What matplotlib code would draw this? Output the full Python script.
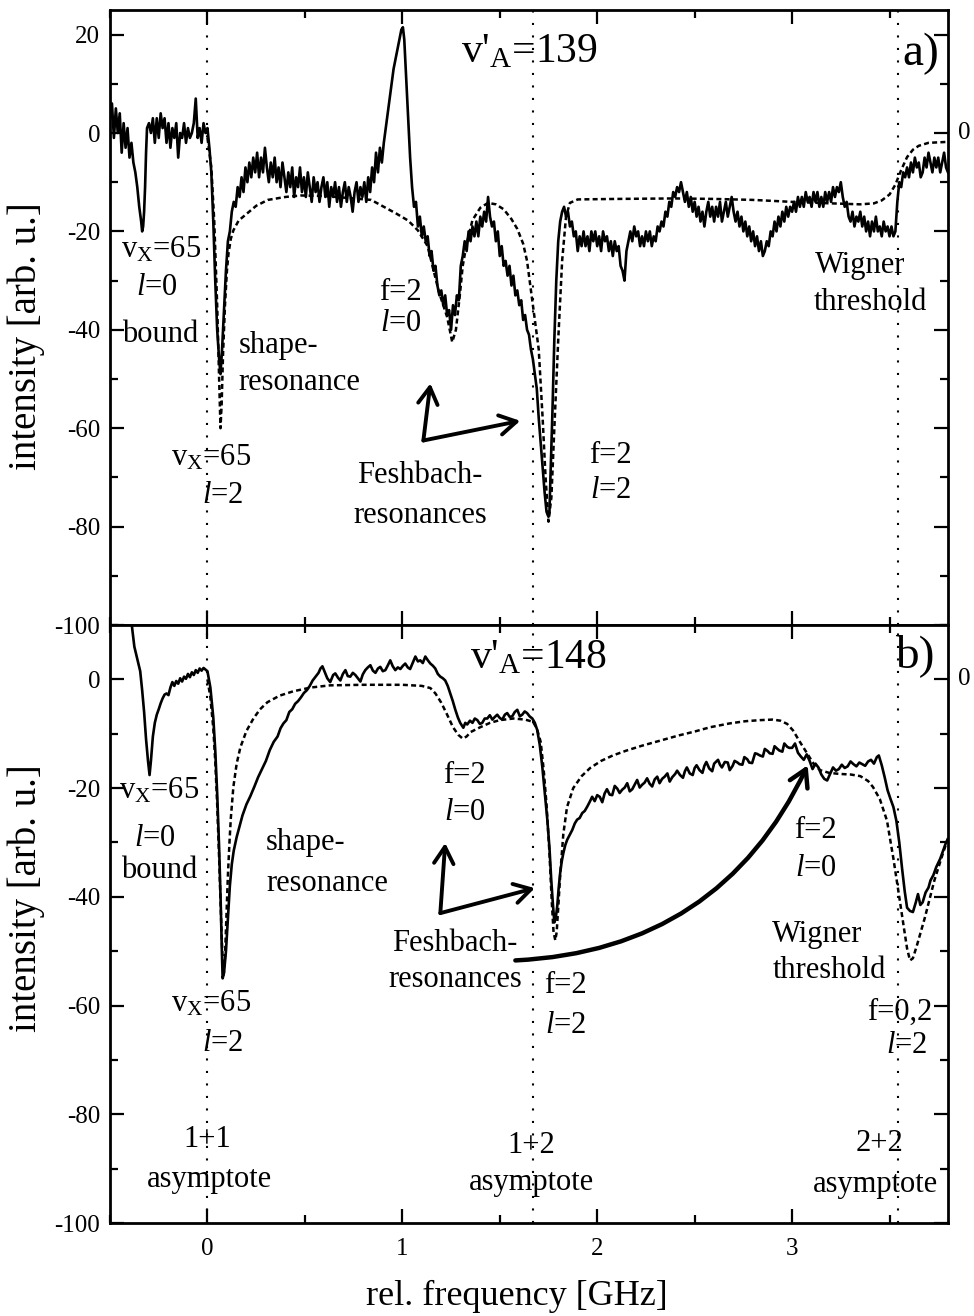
import numpy as np
import matplotlib
matplotlib.use('Agg')
import matplotlib.pyplot as plt
from matplotlib.ticker import MultipleLocator

# Fonte tipo Times para imitar a figura original
plt.rcParams['font.family'] = 'Liberation Serif'
plt.rcParams['mathtext.fontset'] = 'custom'
plt.rcParams['mathtext.rm'] = 'Liberation Serif'
plt.rcParams['mathtext.it'] = 'Liberation Serif:italic'
plt.rcParams['axes.unicode_minus'] = False

# ---------------- dados ----------------
# painel a) v'A = 139 : espectro medido (freq. GHz, intensidade)
exp_a = [
    (-0.50, 3), (-0.49, 6), (-0.48, -1), (-0.47, 5), (-0.46, 0), (-0.45, 4), (-0.44, -4), (-0.43, 2),
    (-0.42, -3), (-0.41, 1), (-0.40, -5), (-0.39, -2), (-0.38, -6), (-0.37, -8), (-0.36, -11), (-0.35, -15),
    (-0.34, -18), (-0.335, -20), (-0.33, -19), (-0.325, -16), (-0.32, -11), (-0.315, -4), (-0.31, 1),
    (-0.30, 2), (-0.29, 0), (-0.28, 3), (-0.27, -2), (-0.26, 3), (-0.25, -1), (-0.24, 4), (-0.23, 1),
    (-0.22, 3), (-0.21, -2), (-0.20, 2), (-0.19, -3), (-0.18, 1), (-0.17, -1), (-0.16, 2), (-0.15, -5),
    (-0.14, 0), (-0.13, -1), (-0.12, 2), (-0.11, -2), (-0.10, 1), (-0.09, -1), (-0.08, 0), (-0.07, 2),
    (-0.06, 7), (-0.05, -1), (-0.04, 1), (-0.03, -2), (-0.02, 2), (-0.01, 0), (0.00, 1),
    (0.01, -3), (0.02, -8), (0.03, -18), (0.04, -30), (0.05, -40), (0.06, -46), (0.067, -49),
    (0.075, -44), (0.085, -36), (0.095, -28), (0.105, -22), (0.115, -20), (0.125, -16), (0.135, -14),
    (0.145, -15), (0.155, -11), (0.165, -13), (0.175, -9), (0.185, -12), (0.195, -7), (0.205, -10),
    (0.215, -6), (0.225, -9), (0.235, -5), (0.245, -8), (0.255, -4), (0.265, -9), (0.275, -5),
    (0.285, -8), (0.295, -3), (0.305, -7), (0.315, -10), (0.325, -6), (0.335, -9), (0.345, -5),
    (0.355, -10), (0.365, -7), (0.375, -11), (0.385, -6), (0.395, -9), (0.405, -12), (0.415, -8),
    (0.425, -11), (0.435, -7), (0.445, -13), (0.455, -9), (0.465, -11), (0.475, -7), (0.485, -12),
    (0.495, -9), (0.505, -13), (0.515, -8), (0.525, -11), (0.535, -14), (0.545, -9), (0.555, -12),
    (0.565, -10), (0.575, -14), (0.585, -11), (0.595, -9), (0.605, -13), (0.615, -10), (0.625, -15),
    (0.635, -11), (0.645, -13), (0.655, -10), (0.665, -14), (0.675, -11), (0.685, -15), (0.695, -12),
    (0.705, -10), (0.715, -14), (0.725, -11), (0.735, -13), (0.745, -16), (0.755, -12), (0.765, -10),
    (0.775, -14), (0.785, -11), (0.795, -13), (0.805, -10), (0.815, -14), (0.825, -9), (0.835, -12),
    (0.845, -7), (0.855, -10), (0.865, -4), (0.875, -8), (0.885, -3), (0.895, -6), (0.905, -2),
    (0.915, 1), (0.925, 4), (0.935, 7), (0.945, 10), (0.955, 13), (0.965, 15), (0.975, 17),
    (0.985, 19), (0.995, 21), (1.003, 21.5), (1.01, 19), (1.02, 11), (1.03, 3), (1.04, -5),
    (1.05, -11), (1.06, -15), (1.07, -14), (1.08, -19), (1.09, -17), (1.10, -21), (1.11, -19),
    (1.12, -22), (1.13, -21), (1.14, -25), (1.15, -24), (1.16, -28), (1.17, -27), (1.18, -31),
    (1.19, -33), (1.20, -32), (1.21, -35), (1.22, -33), (1.23, -37), (1.24, -36), (1.25, -40),
    (1.26, -35), (1.27, -37), (1.28, -33), (1.29, -34), (1.30, -27), (1.31, -25), (1.32, -22),
    (1.33, -24), (1.34, -20), (1.35, -22), (1.36, -19), (1.37, -21), (1.38, -18), (1.39, -21),
    (1.40, -17), (1.41, -19), (1.42, -16), (1.43, -18), (1.44, -13), (1.45, -17), (1.46, -19),
    (1.47, -18), (1.48, -22), (1.49, -20), (1.50, -25), (1.51, -23), (1.52, -27), (1.53, -26),
    (1.54, -29), (1.55, -27), (1.56, -31), (1.57, -29), (1.58, -33), (1.59, -32), (1.60, -35),
    (1.61, -34), (1.62, -38), (1.63, -37), (1.64, -40), (1.65, -41), (1.66, -44), (1.67, -46),
    (1.68, -49), (1.69, -52), (1.70, -58), (1.71, -63), (1.72, -68), (1.73, -73), (1.74, -77),
    (1.75, -78), (1.755, -77), (1.76, -70), (1.77, -57), (1.78, -42), (1.79, -30), (1.80, -22),
    (1.81, -18), (1.82, -16), (1.83, -15), (1.84, -17), (1.85, -16), (1.86, -19), (1.87, -18),
    (1.88, -21), (1.89, -20), (1.90, -24), (1.91, -21), (1.92, -23), (1.93, -20), (1.94, -23),
    (1.95, -21), (1.96, -24), (1.97, -20), (1.98, -22), (1.99, -20), (2.00, -23), (2.01, -21),
    (2.02, -24), (2.03, -20), (2.04, -22), (2.05, -21), (2.06, -24), (2.07, -22), (2.08, -25),
    (2.09, -22), (2.10, -24), (2.11, -23), (2.12, -27), (2.13, -28), (2.14, -30), (2.15, -24),
    (2.16, -22), (2.17, -20), (2.18, -22), (2.19, -19), (2.20, -21), (2.21, -20), (2.22, -23),
    (2.23, -21), (2.24, -23), (2.25, -20), (2.26, -22), (2.27, -20), (2.28, -23), (2.29, -21),
    (2.30, -22), (2.31, -19), (2.32, -20), (2.33, -18), (2.34, -19), (2.35, -16), (2.36, -17),
    (2.37, -14), (2.38, -15), (2.39, -12), (2.40, -13), (2.41, -11), (2.42, -12), (2.43, -10),
    (2.44, -12), (2.45, -14), (2.46, -12), (2.47, -15), (2.48, -13), (2.49, -16), (2.50, -14),
    (2.51, -17), (2.52, -15), (2.53, -18), (2.54, -16), (2.55, -19), (2.56, -16), (2.57, -14),
    (2.58, -17), (2.59, -15), (2.60, -18), (2.61, -15), (2.62, -17), (2.63, -14), (2.64, -18),
    (2.65, -16), (2.66, -14), (2.67, -17), (2.68, -15), (2.69, -13), (2.70, -16), (2.71, -18),
    (2.72, -16), (2.73, -19), (2.74, -17), (2.75, -20), (2.76, -18), (2.77, -21), (2.78, -19),
    (2.79, -22), (2.80, -20), (2.81, -23), (2.82, -21), (2.83, -24), (2.84, -22), (2.85, -25),
    (2.86, -24), (2.87, -22), (2.88, -23), (2.89, -20), (2.90, -21), (2.91, -18), (2.92, -20),
    (2.93, -17), (2.94, -19), (2.95, -16), (2.96, -18), (2.97, -15), (2.98, -17), (2.99, -15),
    (3.00, -16), (3.01, -14), (3.02, -16), (3.03, -13), (3.04, -15), (3.05, -13), (3.06, -15),
    (3.07, -12), (3.08, -14), (3.09, -13), (3.10, -15), (3.11, -12), (3.12, -14), (3.13, -12),
    (3.14, -15), (3.15, -13), (3.16, -15), (3.17, -12), (3.18, -14), (3.19, -12), (3.20, -14),
    (3.21, -11), (3.22, -13), (3.23, -11), (3.24, -12), (3.25, -10), (3.26, -13), (3.27, -15),
    (3.28, -14), (3.29, -17), (3.30, -18), (3.31, -16), (3.32, -19), (3.33, -17), (3.34, -18),
    (3.35, -16), (3.36, -19), (3.37, -17), (3.38, -20), (3.39, -18), (3.40, -21), (3.41, -18),
    (3.42, -20), (3.43, -17), (3.44, -20), (3.45, -19), (3.46, -21), (3.47, -18), (3.48, -20),
    (3.49, -19), (3.50, -21), (3.51, -19), (3.52, -21), (3.53, -20), (3.54, -14), (3.55, -10),
    (3.56, -11), (3.57, -8), (3.58, -9), (3.59, -7), (3.60, -9), (3.61, -6), (3.62, -8),
    (3.63, -5), (3.64, -7), (3.65, -6), (3.66, -9), (3.67, -8), (3.68, -5), (3.69, -7),
    (3.70, -4), (3.71, -6), (3.72, -8), (3.73, -5), (3.74, -7), (3.75, -5), (3.76, -8),
    (3.77, -6), (3.78, -4), (3.79, -7), (3.80, -8),
]
# painel a) curva teórica (pontilhada)
teo_a = [
    (0.00, -1), (0.02, -7), (0.035, -18), (0.05, -35), (0.06, -50), (0.067, -60), (0.073, -55),
    (0.08, -45), (0.09, -35), (0.10, -28), (0.108, -24.5), (0.12, -21.5), (0.133, -19.8),
    (0.16, -17.8), (0.205, -16.3), (0.25, -14.8), (0.31, -13.6), (0.40, -13), (0.48, -12.7),
    (0.60, -12.8), (0.72, -13.2), (0.84, -13.6), (0.97, -16.4), (1.03, -17.8), (1.08, -19.8),
    (1.13, -23), (1.16, -27.9), (1.19, -32.6), (1.23, -37.4), (1.256, -42.5), (1.275, -40),
    (1.295, -33), (1.31, -27), (1.33, -22.5), (1.36, -17.7), (1.40, -15.2), (1.44, -14.2),
    (1.48, -14.5), (1.52, -15.5), (1.56, -17.5), (1.59, -19.5), (1.62, -22.5), (1.64, -26),
    (1.66, -32), (1.68, -38), (1.70, -44), (1.72, -58), (1.735, -70), (1.75, -79), (1.765, -74),
    (1.78, -60), (1.80, -42), (1.82, -26), (1.84, -17), (1.86, -14.2), (1.90, -13.5),
    (2.10, -13.4), (2.40, -13.3), (2.60, -13.4), (2.80, -13.6), (3.00, -14), (3.20, -14.3),
    (3.35, -14.5), (3.42, -14.3), (3.46, -13.7), (3.50, -12.5), (3.53, -10.5), (3.56, -7.5),
    (3.59, -4.9), (3.62, -3.4), (3.65, -2.6), (3.70, -2.0), (3.80, -1.8),
]

# painel b) v'A = 148 : espectro medido
exp_b = [
    (-0.40, 14), (-0.385, 9), (-0.375, 6), (-0.365, 4.5), (-0.355, 3), (-0.345, 1.5), (-0.335, -2),
    (-0.325, -6), (-0.315, -11), (-0.305, -15), (-0.297, -17.6), (-0.29, -15), (-0.28, -10.5),
    (-0.27, -8), (-0.26, -6.5), (-0.25, -5.5), (-0.24, -4.4), (-0.23, -3.5), (-0.22, -2.8),
    (-0.21, -2.6), (-0.20, -2.9), (-0.19, -1.5), (-0.18, -0.5), (-0.17, -1.2), (-0.16, -0.3),
    (-0.15, -0.8), (-0.14, 0.2), (-0.13, -0.4), (-0.12, 0.5), (-0.11, 0.1), (-0.10, 1.0),
    (-0.09, 0.4), (-0.08, 1.3), (-0.07, 0.8), (-0.06, 1.7), (-0.05, 1.2), (-0.04, 2.0),
    (-0.03, 1.6), (-0.02, 2.1), (-0.01, 1.8), (0.0, 1.5), (0.015, -1.5), (0.03, -7), (0.04, -13),
    (0.05, -21), (0.06, -31), (0.068, -41), (0.074, -50), (0.078, -55), (0.085, -54), (0.095, -50),
    (0.105, -44), (0.115, -38), (0.125, -34), (0.135, -31.5), (0.15, -29), (0.165, -27),
    (0.18, -25), (0.20, -23), (0.22, -21.5), (0.24, -19.8), (0.26, -18), (0.28, -16.5),
    (0.30, -15), (0.32, -13), (0.34, -11.5), (0.36, -10.5), (0.375, -9), (0.39, -8.1),
    (0.405, -7.5), (0.42, -6), (0.435, -5.5), (0.45, -4.5), (0.465, -4), (0.48, -3.3),
    (0.495, -2.5), (0.51, -2.0), (0.525, -1.2), (0.54, -0.2), (0.555, 0.5), (0.57, 1.2),
    (0.58, 2.0), (0.59, 2.4), (0.60, 1.5), (0.615, 0.2), (0.63, -0.5), (0.645, 0.8), (0.656, 1.1),
    (0.67, 0.3), (0.682, -0.2), (0.695, 1.0), (0.708, 1.7), (0.72, 0.6), (0.733, 0.5),
    (0.746, 1.2), (0.759, 0.8), (0.772, 0.2), (0.785, -0.4), (0.797, 0.9), (0.81, 1.7),
    (0.823, 2.2), (0.836, 2.6), (0.849, 1.6), (0.862, 1.2), (0.875, 2.0), (0.887, 2.3),
    (0.90, 1.5), (0.913, 1.7), (0.926, 2.6), (0.938, 3.5), (0.951, 2.4), (0.964, 1.7),
    (0.977, 2.2), (0.99, 1.9), (1.003, 2.5), (1.015, 2.9), (1.028, 2.2), (1.04, 1.9),
    (1.053, 3.0), (1.067, 4.2), (1.08, 3.3), (1.092, 3.5), (1.105, 3.0), (1.118, 4.2),
    (1.131, 3.5), (1.144, 2.9), (1.157, 2.5), (1.169, 2.0), (1.182, 1.0), (1.195, 0.5),
    (1.208, 0.2), (1.22, -0.2), (1.233, -1.2), (1.246, -2.6), (1.259, -4), (1.272, -5.6),
    (1.285, -7), (1.297, -8), (1.313, -8.9), (1.323, -8), (1.333, -8.3), (1.347, -7.6),
    (1.36, -8), (1.372, -7.2), (1.385, -7.5), (1.398, -8.2), (1.41, -8), (1.423, -7.2),
    (1.436, -7.2), (1.449, -6.6), (1.462, -7.4), (1.475, -6.9), (1.487, -6.5), (1.50, -7.1),
    (1.513, -7.4), (1.526, -6.5), (1.538, -6.2), (1.551, -6.9), (1.564, -6.8), (1.577, -6.0),
    (1.59, -5.6), (1.603, -6.8), (1.615, -6.5), (1.628, -5.9), (1.64, -6.2), (1.653, -6.8),
    (1.667, -7.2), (1.68, -8.0), (1.692, -9.3), (1.705, -12), (1.718, -16), (1.731, -21),
    (1.744, -25.8), (1.755, -31), (1.764, -36.8), (1.772, -41), (1.78, -44.7), (1.787, -44),
    (1.795, -41.7), (1.802, -38.5), (1.81, -35.6), (1.818, -33.5), (1.826, -32), (1.836, -30.5),
    (1.846, -29.5), (1.859, -28.6), (1.872, -27.7), (1.885, -26.5), (1.897, -25.8), (1.91, -25.5),
    (1.923, -24.6), (1.936, -24.2), (1.949, -23.4), (1.962, -22.5), (1.974, -21.6), (1.987, -22.4),
    (2.0, -21.3), (2.013, -21.6), (2.026, -22.6), (2.038, -21), (2.05, -20.2), (2.064, -21.2),
    (2.077, -21.3), (2.09, -19.6), (2.103, -20.1), (2.115, -20.9), (2.128, -20.3), (2.141, -19.9),
    (2.154, -19.1), (2.167, -20.6), (2.18, -20.2), (2.192, -19.4), (2.205, -18.5), (2.218, -19.9),
    (2.23, -19.4), (2.243, -19.0), (2.256, -18.2), (2.269, -19.2), (2.282, -19.7), (2.295, -18.4),
    (2.308, -17.9), (2.32, -19.1), (2.333, -18.3), (2.346, -17.9), (2.36, -17.3), (2.372, -18.8),
    (2.385, -18.0), (2.40, -17.4), (2.41, -16.8), (2.425, -17.6), (2.44, -18.1), (2.45, -16.9),
    (2.46, -16.2), (2.475, -17.3), (2.49, -17.6), (2.50, -16.3), (2.51, -15.8), (2.525, -16.7),
    (2.54, -17.2), (2.55, -15.9), (2.56, -15.2), (2.575, -16.4), (2.59, -16.9), (2.60, -15.5),
    (2.62, -14.8), (2.63, -15.7), (2.64, -16.2), (2.655, -15.2), (2.67, -15.3), (2.68, -16.7),
    (2.695, -15.9), (2.705, -15.0), (2.72, -15.3), (2.73, -15.6), (2.745, -15.7), (2.755, -14.3),
    (2.77, -14.7), (2.78, -15.3), (2.795, -15.4), (2.81, -13.6), (2.82, -13.7), (2.835, -14.0),
    (2.85, -14.2), (2.86, -12.8), (2.875, -13.2), (2.885, -13.6), (2.90, -13.7), (2.91, -12.3),
    (2.925, -12.8), (2.935, -13.1), (2.95, -13.3), (2.96, -11.8), (2.975, -12.4), (2.985, -12.6),
    (3.0, -12.6), (3.015, -11.8), (3.03, -13.5), (3.045, -14.2), (3.06, -14.8), (3.075, -13.8),
    (3.09, -15), (3.105, -16.5), (3.12, -15.5), (3.135, -16.2), (3.15, -17.5), (3.165, -18.3),
    (3.18, -18.6), (3.195, -17.4), (3.21, -16.2), (3.225, -16.8), (3.24, -16.5), (3.255, -15.7),
    (3.27, -16.3), (3.285, -16), (3.30, -15.1), (3.315, -15.6), (3.33, -16), (3.345, -15.3),
    (3.36, -15.6), (3.375, -15.9), (3.39, -15.1), (3.405, -14.8), (3.42, -15.5), (3.435, -14.3),
    (3.445, -14.0), (3.46, -15.8), (3.475, -18), (3.49, -20.4), (3.505, -22), (3.52, -23.5),
    (3.535, -26), (3.55, -30), (3.565, -35), (3.578, -39), (3.59, -42), (3.605, -42.6),
    (3.62, -42.8), (3.635, -41), (3.646, -39.5), (3.658, -41.5), (3.67, -41), (3.685, -39.2),
    (3.70, -38.3), (3.71, -37), (3.725, -36), (3.74, -34.5), (3.76, -33), (3.775, -31.5),
    (3.79, -30), (3.80, -29.4),
]
# painel b) curva teórica
teo_b = [
    (0.0, 0), (0.015, -3.3), (0.03, -9), (0.04, -15), (0.05, -23), (0.06, -33), (0.07, -44),
    (0.077, -51), (0.083, -54.5), (0.09, -51), (0.097, -44), (0.105, -36), (0.113, -30),
    (0.12, -25.5), (0.133, -19.8), (0.15, -15.5), (0.169, -12.5), (0.20, -9.5), (0.236, -7.2),
    (0.27, -5.5), (0.308, -4.2), (0.37, -3), (0.44, -2.2), (0.53, -1.5), (0.63, -1.1),
    (0.80, -1.0), (1.00, -1.0), (1.10, -1.2), (1.144, -1.6), (1.17, -2.6), (1.20, -4.3),
    (1.23, -6.5), (1.26, -8.8), (1.287, -10.2), (1.31, -10.9), (1.33, -10.5), (1.35, -9.7),
    (1.40, -8.8), (1.45, -8), (1.50, -7.5), (1.57, -7.2), (1.63, -7.4), (1.67, -7.8),
    (1.69, -9), (1.71, -11.5), (1.725, -16.5), (1.74, -23), (1.755, -32), (1.767, -41),
    (1.776, -46.5), (1.785, -48), (1.792, -46.5), (1.80, -42), (1.81, -36), (1.826, -28.5),
    (1.845, -23.5), (1.877, -20), (1.92, -17.8), (1.964, -16.3), (2.02, -15), (2.08, -14),
    (2.15, -13.1), (2.23, -12.2), (2.32, -11.3), (2.42, -10.3), (2.50, -9.6), (2.58, -8.8),
    (2.68, -8.1), (2.76, -7.7), (2.836, -7.5), (2.90, -7.4), (2.94, -7.6), (2.975, -8.2),
    (3.005, -9.4), (3.04, -11.5), (3.077, -13.6), (3.11, -15.5), (3.144, -16.7), (3.19, -17.2),
    (3.246, -17.4), (3.30, -17.5), (3.35, -17.8), (3.39, -18.7), (3.415, -19.8), (3.45, -22),
    (3.487, -26), (3.52, -33), (3.554, -41), (3.575, -46), (3.59, -49.5), (3.605, -51.7),
    (3.62, -51.3), (3.64, -49), (3.66, -46.5), (3.68, -44), (3.705, -40.5), (3.73, -37),
    (3.765, -33), (3.80, -29.2),
]

# posições das assíntotas (linhas verticais pontilhadas)
assintotas = [0.0, 1.67, 3.545]

# ---------------- figura ----------------
fig = plt.figure(figsize=(9.74, 13.16), dpi=100)
ax_a = fig.add_axes([110 / 974, 1 - 625 / 1316, 838 / 974, 615 / 1316])
ax_b = fig.add_axes([110 / 974, 1 - 1223 / 1316, 838 / 974, 598 / 1316])


def estilo(ax, ylim, ylab_y):
    ax.set_xlim(-0.5, 3.8)
    ax.set_ylim(*ylim)
    ax.xaxis.set_major_locator(MultipleLocator(1))
    ax.xaxis.set_minor_locator(MultipleLocator(0.5))
    ax.yaxis.set_major_locator(MultipleLocator(20))
    ax.yaxis.set_minor_locator(MultipleLocator(10))
    ax.tick_params(which='both', direction='in', top=True, right=True, width=1.6)
    ax.tick_params(which='major', length=10)
    ax.tick_params(which='minor', length=6)
    ax.tick_params(axis='y', labelsize=18, pad=7)
    ax.tick_params(axis='x', labelsize=18, pad=11)
    for s in ax.spines.values():
        s.set_linewidth(2)
    ax.set_ylabel('intensity [arb. u.]', fontsize=28)
    ax.yaxis.set_label_coords(-0.078, ylab_y)
    # rótulo "0" do eixo da direita
    ax.text(1.012, 0, '0', transform=ax.get_yaxis_transform(), ha='left', va='center', fontsize=18)
    for xv in assintotas:
        ax.axvline(xv, color='k', lw=1.5, linestyle=(0, (1, 5)), zorder=1)


estilo(ax_a, (-100, 25), 0.47)
estilo(ax_b, (-100, 10), 0.543)
ax_a.tick_params(labelbottom=False)

tracejado = (0, (2, 1.3))
for ax, exp, teo in [(ax_a, exp_a, teo_a), (ax_b, exp_b, teo_b)]:
    xe, ye = np.array(exp).T
    xt, yt = np.array(teo).T
    ax.plot(xt, yt, color='k', lw=1.8, linestyle=tracejado, zorder=2)
    ax.plot(xe, ye, color='k', lw=1.9, zorder=3)

ax_b.set_xlabel('rel. frequency [GHz]', fontsize=26)
ax_b.xaxis.set_label_coords(0.486, -0.095)

fs = 22
l0 = '$\\mathit{l}$=0'
l2 = '$\\mathit{l}$=2'
vx = 'v$_\\mathrm{X}$=65'
seta = dict(arrowstyle='->,head_length=0.6,head_width=0.35', lw=2.8, color='k',
            shrinkA=0, shrinkB=0, mutation_scale=20)

# ---- textos painel a) ----
ax_a.text(1.65, 16.5, "v'$_\\mathrm{A}$=139", fontsize=30, ha='center', va='center')
ax_a.text(3.66, 16, 'a)', fontsize=34, ha='center', va='center')
for x, y, t, ha in [(-0.24, -23.8, vx, 'center'), (-0.26, -31.5, l0, 'center'),
                    (-0.24, -41, 'bound', 'center'), (0.16, -43.2, 'shape-', 'left'),
                    (0.16, -50.7, 'resonance', 'left'), (0.02, -66, vx, 'center'),
                    (0.08, -73.7, l2, 'center'), (0.99, -32.4, 'f=2', 'center'),
                    (0.99, -38.7, l0, 'center'), (1.09, -69.7, 'Feshbach-', 'center'),
                    (1.09, -77.8, 'resonances', 'center'), (2.07, -65.6, 'f=2', 'center'),
                    (2.07, -72.7, l2, 'center'), (3.35, -26.9, 'Wigner', 'center'),
                    (3.40, -34.4, 'threshold', 'center')]:
    ax_a.text(x, y, t, fontsize=fs, ha=ha, va='center')
ax_a.annotate('', xy=(1.144, -50.9), xytext=(1.108, -62.5), arrowprops=seta)
ax_a.annotate('', xy=(1.605, -58.5), xytext=(1.108, -62.5), arrowprops=seta)

# ---- textos painel b) ----
ax_b.text(1.70, 4.0, "v'$_\\mathrm{A}$=148", fontsize=30, ha='center', va='center')
ax_b.text(3.63, 4.4, 'b)', fontsize=34, ha='center', va='center')
for x, y, t, ha in [(-0.25, -20.4, vx, 'center'), (-0.27, -29.2, l0, 'center'),
                    (-0.25, -35.1, 'bound', 'center'), (0.30, -30.1, 'shape-', 'left'),
                    (0.30, -37.5, 'resonance', 'left'), (0.02, -59.6, vx, 'center'),
                    (0.08, -66.9, l2, 'center'), (1.32, -17.6, 'f=2', 'center'),
                    (1.32, -24.4, l0, 'center'), (1.27, -48.5, 'Feshbach-', 'center'),
                    (1.27, -55.3, 'resonances', 'center'), (1.836, -56.3, 'f=2', 'center'),
                    (1.836, -63.6, l2, 'center'), (3.12, -27.8, 'f=2', 'center'),
                    (3.12, -34.7, l0, 'center'), (3.13, -47, 'Wigner', 'center'),
                    (3.19, -53.5, 'threshold', 'center'), (3.55, -61.2, 'f=0,2', 'center'),
                    (3.59, -67.3, l2, 'center'), (0.0, -84.7, '1+1', 'center'),
                    (0.01, -92, 'asymptote', 'center'), (1.66, -85.7, '1+2', 'center'),
                    (1.66, -92.6, 'asymptote', 'center'), (3.45, -85.3, '2+2', 'center'),
                    (3.43, -93, 'asymptote', 'center')]:
    ax_b.text(x, y, t, fontsize=fs, ha=ha, va='center')
ax_b.annotate('', xy=(1.22, -30.1), xytext=(1.195, -43), arrowprops=seta)
ax_b.annotate('', xy=(1.68, -38.4), xytext=(1.195, -43), arrowprops=seta)
ax_b.annotate('', xy=(3.08, -15.8), xytext=(1.58, -51.7),
              arrowprops=dict(seta, connectionstyle='arc3,rad=0.3', lw=3.2))

fig.savefig('out.png', dpi=100)
